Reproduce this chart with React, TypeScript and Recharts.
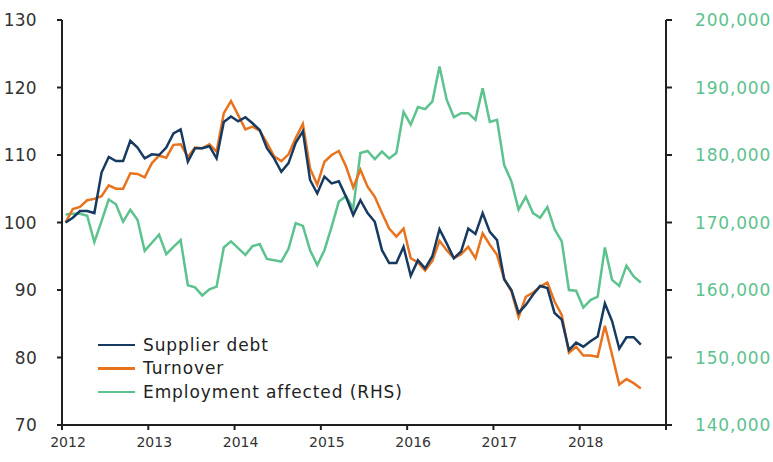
import { Line, LineChart, XAxis, YAxis } from 'recharts'

const FONT = '"DejaVu Sans", sans-serif'
const AXIS = '#231f20'
const TEXT = '#333'
const NAVY = '#173a61'
const ORANGE = '#e8731e'
const GREEN = '#5cc28e'

// monthly, Jan 2012 – Sep 2018
const months = Array.from({ length: 81 }, (_, i) => {
  const y = 2012 + Math.floor(i / 12)
  const m = (i % 12) + 1
  return `${y}-${String(m).padStart(2, '0')}`
})

const supplierDebt = [
  100.0, 100.7, 101.7, 101.7, 101.4, 107.4, 109.7, 109.1, 109.1, 112.1, 111.1, 109.5,
  110.1, 110.0, 111.1, 113.2, 113.8, 109.0, 111.0, 111.0, 111.3, 109.5, 114.9, 115.7,
  115.0, 115.6, 114.7, 113.7, 111.0, 109.5, 107.5, 108.8, 111.8, 113.5, 106.3, 104.3,
  106.8, 105.8, 106.1, 103.8, 101.1, 103.3, 101.4, 100.1, 95.9, 94.0, 94.0, 96.4,
  92.1, 94.4, 93.2, 95.0, 99.0, 96.9, 94.7, 95.7, 99.1, 98.3, 101.4, 98.6,
  97.4, 91.6, 90.0, 86.6, 87.8, 89.3, 90.6, 90.3, 86.6, 85.6, 81.1, 82.2,
  81.6, 82.4, 83.1, 88.0, 85.4, 81.3, 83.0, 83.0, 81.9,
]

const turnover = [
  100.0, 102.0, 102.3, 103.3, 103.5, 103.9, 105.5, 105.0, 105.0, 107.3, 107.2, 106.7,
  108.8, 109.9, 109.6, 111.5, 111.6, 109.7, 111.1, 111.0, 111.6, 110.5, 116.2, 118.0,
  115.9, 113.8, 114.2, 113.6, 111.8, 109.8, 109.1, 110.1, 112.5, 114.6, 108.0, 105.6,
  109.0, 110.0, 110.6, 108.3, 105.2, 107.8, 105.3, 103.8, 101.4, 99.1, 97.9, 99.1,
  94.7, 94.1, 92.9, 94.3, 97.3, 95.9, 94.7, 95.3, 96.4, 94.7, 98.4, 96.7,
  95.2, 91.6, 89.8, 86.0, 89.0, 89.6, 90.5, 91.1, 88.3, 86.3, 80.7, 81.6,
  80.3, 80.3, 80.1, 84.7, 80.4, 76.0, 76.8, 76.2, 75.4,
]

const employment = [
  171200, 171300, 171300, 171000, 167100, 170200, 173400, 172700, 170100, 171900, 170400, 165800,
  167000, 168200, 165300, 166400, 167400, 160700, 160400, 159200, 160100, 160500, 166300, 167200,
  166200, 165200, 166500, 166800, 164600, 164400, 164200, 166100, 169900, 169500, 165900, 163700,
  165900, 169400, 173100, 173900, 172100, 180300, 180600, 179400, 180500, 179500, 180300, 186400,
  184500, 187100, 186800, 187900, 193100, 188200, 185600, 186200, 186200, 185200, 189900, 184900,
  185200, 178500, 176100, 171900, 173800, 171400, 170700, 172300, 169000, 167200, 160000, 159900,
  157400, 158500, 159000, 166300, 161500, 160600, 163600, 162000, 161100,
]

const yearTicks = [2012, 2013, 2014, 2015, 2016, 2017, 2018, 2019]
const leftTicks = [70, 80, 90, 100, 110, 120, 130]
const rightTicks = [140000, 150000, 160000, 170000, 180000, 190000, 200000]

const legendItems = [
  { name: 'Supplier debt', color: NAVY },
  { name: 'Turnover', color: ORANGE },
  { name: 'Employment affected (RHS)', color: GREEN },
]

const data = months.map((month, i) => ({
  month,
  t: 2012 + (i + 0.5) / 12,
  debt: supplierDebt[i],
  turnover: turnover[i],
  employment: employment[i],
}))

function YearTick({ x, y, payload }: any) {
  if (payload.value === 2019) return null
  return (
    <text x={x + 6} y={y} dy="0.71em" textAnchor="middle" fill={TEXT} fontSize={14} fontFamily={FONT}>
      {payload.value}
    </text>
  )
}

function LeftTick({ x, y, payload }: any) {
  return (
    <text x={x} y={y} dy="0.355em" textAnchor="end" fill={TEXT} fontSize={17} fontFamily={FONT} letterSpacing={0.3}>
      {payload.value}
    </text>
  )
}

function RightTick({ y, payload }: any) {
  return (
    <text x={771} y={y} dy="0.355em" textAnchor="end" fill={GREEN} fontSize={17} fontFamily={FONT} letterSpacing={0.8}>
      {payload.value.toLocaleString('en-US')}
    </text>
  )
}

function LegendBox() {
  return (
    <div style={{ position: 'absolute', left: 98, top: 333, fontFamily: FONT, fontSize: 17, letterSpacing: 0.9, color: '#222' }}>
      {legendItems.map((item) => (
        <div key={item.name} style={{ display: 'flex', alignItems: 'center', height: 23.5 }}>
          <span style={{ width: 37, height: 2.5, background: item.color, marginRight: 8 }} />
          <span>{item.name}</span>
        </div>
      ))}
    </div>
  )
}

export default function App() {
  return (
    <div style={{ position: 'absolute', left: 0, top: 0, width: 773, height: 462, background: '#fff' }}>
      <LineChart width={773} height={462} data={data} margin={{ top: 20, right: 0, bottom: 0, left: 0 }}>
        <XAxis
          dataKey="t"
          type="number"
          domain={[2012, 2019]}
          ticks={yearTicks}
          tick={<YearTick />}
          tickSize={5}
          tickMargin={7}
          height={37}
          stroke={AXIS}
          strokeWidth={2}
          interval={0}
        />
        <YAxis
          yAxisId="left"
          domain={[70, 130]}
          ticks={leftTicks}
          width={62}
          tickSize={5}
          tickMargin={20}
          stroke={AXIS}
          strokeWidth={2}
          tick={<LeftTick />}
          interval={0}
        />
        <YAxis
          yAxisId="right"
          orientation="right"
          domain={[140000, 200000]}
          ticks={rightTicks}
          width={107}
          tickSize={6}
          stroke={AXIS}
          strokeWidth={2}
          tick={<RightTick />}
          interval={0}
        />
        <Line yAxisId="right" dataKey="employment" stroke={GREEN} strokeWidth={2.5} dot={false} isAnimationActive={false} />
        <Line yAxisId="left" dataKey="turnover" stroke={ORANGE} strokeWidth={2.5} dot={false} isAnimationActive={false} />
        <Line yAxisId="left" dataKey="debt" stroke={NAVY} strokeWidth={2.5} dot={false} isAnimationActive={false} />
      </LineChart>
      <LegendBox />
    </div>
  )
}
